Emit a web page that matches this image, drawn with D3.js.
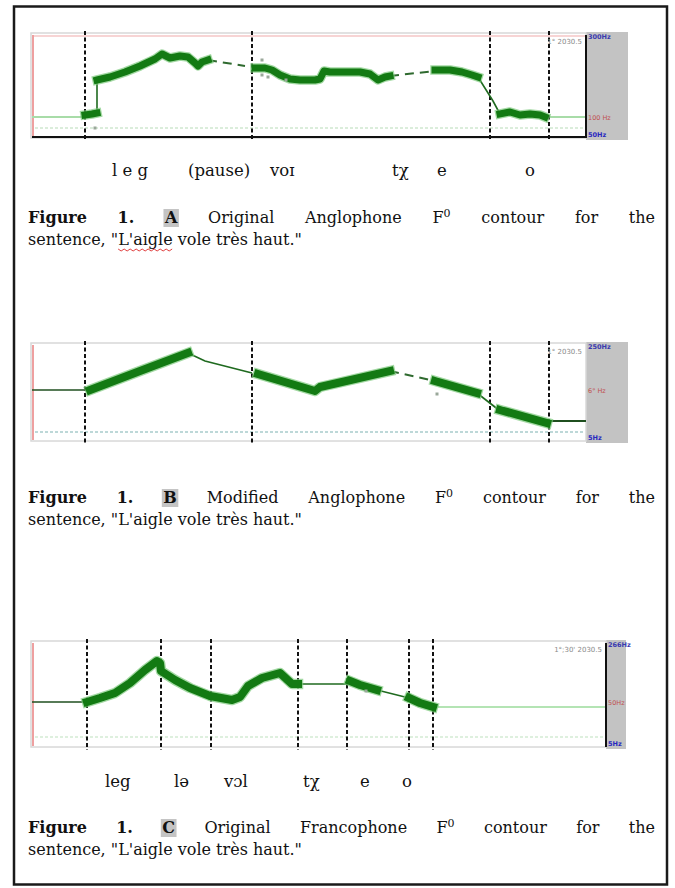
<!DOCTYPE html>
<html>
<head>
<meta charset="utf-8">
<script src="https://cdn.jsdelivr.net/npm/d3@7/dist/d3.min.js"></script>
<style>
  html, body { margin: 0; padding: 0; background: #ffffff; }
  svg { display: block; }
</style>
</head>
<body>
<svg id="chart" width="675" height="888"></svg>
<script>
// ---------------- DATA (time in ms, F0 in Hz) ----------------
// Panel A: original Anglophone contour
const aThick = [
  [[159,104],[180,106],[195,108]],
  [[195,174],[234,180],[279,190],[324,202],[369,216],[390,226],[414,218],[444,222],[468,220],[489,208],[498,202],[510,210],[528,214]],
  [[669,198],[699,198],[720,194],[744,184],[774,176],[804,174],[849,174],[864,176],[876,192],[894,190],[939,190],[984,190],[1014,186],[1038,174],[1059,180],[1074,182]],
  [[1209,194],[1254,194],[1290,190],[1320,184],[1338,180]],
  [[1404,106],[1434,110],[1464,104],[1494,106],[1524,104],[1539,100]]
];
const aThin = [
  [[195,108],[195,174]],
  [[1338,180],[1383,132],[1404,106]]
];
const aDashed = [
  [[528,214],[639,202]],
  [[1074,182],[1209,192]]
];
const aBase = [[[0,100],[159,100]], [[1539,100],[1662,100]]];
const aStray = [[189,78],[690,214],[690,184],[708,180],[762,174]];
const aFloor = 78;
const aBounds = [159, 660, 1374, 1551];
const aPhones = ["l e g", "(pause)", "voɪ", "tχ", "e", "o"];
const aRight = ["300Hz", "100 Hz", "50Hz"];

// Panel B: modified Anglophone contour
const bThick = [
  [[174,160],[324,198],[468,234]],
  [[678,192],[849,158],[864,166],[1074,198]],
  [[1209,178],[1335,154]],
  [[1404,120],[1545,94]]
];
const bThin = [
  [[468,234],[519,218],[660,194]],
  [[1335,154],[1404,118]]
];
const bDashed = [[[1074,198],[1209,178]]];
const bBase = [[[0,160],[174,160]], [[1551,98],[1662,98]]];
const bStray = [[1215,152]];
const bFloor = 76;
const bBounds = [159, 660, 1374, 1551];
const bRight = ["250Hz", "6° Hz", "5Hz"];

// Panel C: original Francophone contour
const cThick = [
  [[165,148],[204,156],[249,166],[294,186],[339,212],[375,230],[384,226],[387,210],[429,192],[474,176],[534,160],[600,152],[624,158],[648,180],[690,196],[744,206],[780,184],[798,184]],
  [[954,190],[984,182],[1035,172]],
  [[1131,156],[1164,146],[1203,138]]
];
const cThin = [
  [[798,184],[945,184]],
  [[1035,172],[1131,156]]
];
const cDashed = [];
const cBase = [[[0,148],[165,148]], [[1203,138],[1722,138]]];
const cStray = [[1002,170]];
const cFloor = 78;
const cBounds = [165, 387, 537, 798, 945, 1131, 1203];
const cPhones = ["leg", "lə", "vɔl", "tχ", "e", "o"];
const cRight = ["266Hz", "50Hz", "5Hz"];

// Captions
const capA1 = ["Figure", "1.", "A", "Original", "Anglophone", "F|0", "contour", "for", "the"];
const capB1 = ["Figure", "1.", "B", "Modified", "Anglophone", "F|0", "contour", "for", "the"];
const capC1 = ["Figure", "1.", "C", "Original", "Francophone", "F|0", "contour", "for", "the"];
const capLine2 = "sentence, \"L'aigle vole très haut.\"";

// ---------------- LAYOUT ----------------
const svg = d3.select("#chart");
const FONT = "'DejaVu Serif', 'Liberation Serif', serif";

// outer frame
svg.append("rect").attr("x", 14).attr("y", 6.5).attr("width", 653).attr("height", 878)
  .attr("fill", "none").attr("stroke", "#1a1a1a").attr("stroke-width", 2.5);

function panel(cfg) {
  const x = d3.scaleLinear().domain(cfg.tDomain).range([cfg.x0, cfg.x1]);
  const y = d3.scaleLinear().domain(cfg.fDomain).range([cfg.bottom, cfg.top]);
  const g = svg.append("g");

  g.append("rect").attr("x", cfg.x1).attr("y", cfg.top - 3).attr("width", cfg.greyW)
    .attr("height", cfg.bottom - cfg.top + 6).attr("fill", "#c3c3c3");
  g.append("rect").attr("x", cfg.x0 - 1).attr("y", cfg.top - 2).attr("width", cfg.x1 - cfg.x0 + 1)
    .attr("height", cfg.bottom - cfg.top + 3).attr("fill", "#ffffff")
    .attr("stroke", "#d8d8d8").attr("stroke-width", 1.5);
  if (cfg.pinkTop) g.append("line").attr("x1", cfg.x0).attr("x2", cfg.x1).attr("y1", cfg.top + 1).attr("y2", cfg.top + 1)
    .attr("stroke", "#f4c6c6").attr("stroke-width", 1.5);
  g.append("line").attr("x1", cfg.x0 + 1).attr("x2", cfg.x0 + 1).attr("y1", cfg.top).attr("y2", cfg.bottom)
    .attr("stroke", "#eea0a0").attr("stroke-width", 2);

  g.append("line").attr("x1", cfg.x0 + 3).attr("x2", cfg.x1 - 2).attr("y1", y(cfg.floor)).attr("y2", y(cfg.floor))
    .attr("stroke", cfg.floorColor).attr("stroke-width", 1.6).attr("stroke-dasharray", "3,2");

  const line = d3.line().x(d => x(d[0])).y(d => y(d[1]));
  cfg.base.forEach((seg, i) => {
    g.append("path").attr("d", line(seg)).attr("fill", "none")
      .attr("stroke", cfg.baseColors[i]).attr("stroke-width", cfg.baseWidths[i]);
  });

  cfg.bounds.forEach(t => {
    g.append("line").attr("x1", x(t)).attr("x2", x(t)).attr("y1", cfg.top - 4).attr("y2", cfg.bottom + 4)
      .attr("stroke", "#111").attr("stroke-width", 2).attr("stroke-dasharray", "4,2.5");
  });

  cfg.thin.forEach(seg => g.append("path").attr("d", line(seg)).attr("fill", "none")
    .attr("stroke", "#1f6a1f").attr("stroke-width", 1.6));
  cfg.dashed.forEach(seg => g.append("path").attr("d", line(seg)).attr("fill", "none")
    .attr("stroke", "#2f6a2f").attr("stroke-width", 2).attr("stroke-dasharray", "9,6"));

  cfg.thick.forEach(seg => {
    g.append("path").attr("d", line(seg)).attr("fill", "none")
      .attr("stroke", "#7cc97c").attr("stroke-width", cfg.thickW + 2.5)
      .attr("stroke-linejoin", "round").attr("stroke-linecap", "square").attr("opacity", 0.7);
    g.append("path").attr("d", line(seg)).attr("fill", "none")
      .attr("stroke", "#137a13").attr("stroke-width", cfg.thickW)
      .attr("stroke-linejoin", "round").attr("stroke-linecap", "square");
  });

  g.selectAll(null).data(cfg.stray).enter().append("rect")
    .attr("x", d => x(d[0]) - 1.5).attr("y", d => y(d[1]) - 1.5).attr("width", 3).attr("height", 3)
    .attr("fill", "#9aa89a");

  if (cfg.blackBottom) g.append("line").attr("x1", cfg.x0).attr("x2", cfg.x1).attr("y1", cfg.bottom).attr("y2", cfg.bottom)
    .attr("stroke", "#111").attr("stroke-width", 2);
  if (cfg.blackRight) g.append("line").attr("x1", cfg.x1).attr("x2", cfg.x1).attr("y1", cfg.top).attr("y2", cfg.bottom + 1)
    .attr("stroke", "#111").attr("stroke-width", 2);

  g.append("text").attr("x", cfg.x1 - 4).attr("y", cfg.top + 9).attr("text-anchor", "end")
    .attr("font-family", "'DejaVu Sans', sans-serif").attr("font-size", 7).attr("fill", "#8a8a8a")
    .text(cfg.readout);

  const rx = cfg.x1 + 2;
  g.append("text").attr("x", rx).attr("y", cfg.top + 4).attr("font-family", "'DejaVu Sans', sans-serif")
    .attr("font-size", 6.5).attr("font-weight", "bold").attr("fill", "#3a3ab0").text(cfg.right[0]);
  g.append("text").attr("x", rx).attr("y", y(cfg.midLabel) + 3).attr("font-family", "'DejaVu Sans', sans-serif")
    .attr("font-size", 6.5).attr("fill", "#c05050").text(cfg.right[1]);
  g.append("text").attr("x", rx).attr("y", cfg.bottom).attr("font-family", "'DejaVu Sans', sans-serif")
    .attr("font-size", 6.5).attr("font-weight", "bold").attr("fill", "#2828c0").text(cfg.right[2]);
  return {x, y};
}

panel({x0: 32, x1: 586, top: 35, bottom: 137, tDomain: [0, 1662], fDomain: [60, 264], greyW: 42,
  thick: aThick, thin: aThin, dashed: aDashed, base: aBase, baseColors: ["#a8dca8", "#a8dca8"], baseWidths: [2, 2],
  stray: aStray, floor: aFloor, floorColor: "#cfe8cf", bounds: aBounds, thickW: 7,
  blackBottom: true, blackRight: true, pinkTop: true, readout: "1° 2030.5", right: aRight, midLabel: 100});

panel({x0: 32, x1: 586, top: 345, bottom: 440, tDomain: [0, 1662], fDomain: [60, 250], greyW: 42,
  thick: bThick, thin: bThin, dashed: bDashed, base: bBase, baseColors: ["#1f4f1f", "#1f4f1f"], baseWidths: [1.5, 2],
  stray: bStray, floor: bFloor, floorColor: "#a8cccc", bounds: bBounds, thickW: 8,
  blackBottom: false, blackRight: false, pinkTop: false, readout: "1° 2030.5", right: bRight, midLabel: 160});

panel({x0: 32, x1: 606, top: 643, bottom: 746, tDomain: [0, 1722], fDomain: [60, 266], greyW: 20,
  thick: cThick, thin: cThin, dashed: cDashed, base: cBase, baseColors: ["#1f4f1f", "#b4e4b4"], baseWidths: [1.5, 2],
  stray: cStray, floor: cFloor, floorColor: "#d4ecd4", bounds: cBounds, thickW: 8,
  blackBottom: false, blackRight: true, pinkTop: false, readout: "1°;30' 2030.5", right: cRight, midLabel: 148});

// ---------------- PHONETIC LABELS ----------------
const phonesAx = [112, 188, 270, 392, 437, 525];
const phonesCx = [105, 174, 224, 303, 360, 402];
function phones(list, xs, y) {
  svg.append("g").selectAll("text").data(list).enter().append("text")
    .attr("x", (d, i) => xs[i]).attr("y", y)
    .attr("font-family", FONT).attr("font-size", 16.5).attr("fill", "#111").text(d => d);
}
phones(aPhones, phonesAx, 176);
phones(cPhones, phonesCx, 787);

// ---------------- CAPTIONS ----------------
const CAP_SIZE = 16;
function caption(words, y1, y2, underline) {
  const g = svg.append("g").attr("font-family", FONT).attr("font-size", CAP_SIZE).attr("fill", "#111");
  const nodes = words.map((w, i) => {
    const t = g.append("text").attr("y", y1).attr("font-weight", i < 3 ? "bold" : "normal");
    if (w.includes("|")) {
      const [a, b] = w.split("|");
      t.append("tspan").text(a);
      t.append("tspan").attr("dy", -6).attr("font-size", 11).text(b);
    } else t.text(w);
    return t;
  });
  const widths = nodes.map(n => n.node().getComputedTextLength());
  const x0 = 28, x1 = 655;
  const total = d3.sum(widths);
  const gap = (x1 - x0 - total) / (words.length - 1);
  let cx = x0;
  nodes.forEach((n, i) => {
    if (i === 2) {
      g.insert("rect", "text").attr("x", cx - 1.5).attr("y", y1 - 14).attr("width", widths[i] + 3)
        .attr("height", 18).attr("fill", "#c4c4c4");
    }
    n.attr("x", cx);
    cx += widths[i] + gap;
  });
  g.append("text").attr("x", x0).attr("y", y2).text(capLine2);
  if (underline) {
    const probe = g.append("text").attr("x", -1000).attr("y", -1000).text("sentence, \"");
    const start = x0 + probe.node().getComputedTextLength();
    const probe2 = g.append("text").attr("x", -1000).attr("y", -1000).text("L'aigle");
    const w = probe2.node().getComputedTextLength();
    probe.remove(); probe2.remove();
    const pts = d3.range(0, Math.floor(w / 3) + 1).map(k => [start + k * 3, y2 + 4 + (k % 2 ? 2 : 0)]);
    g.append("path").attr("d", d3.line()(pts)).attr("fill", "none").attr("stroke", "#e04040").attr("stroke-width", 1);
  }
}
caption(capA1, 223, 245, true);
caption(capB1, 503, 525, false);
caption(capC1, 833, 855, false);
</script>
</body>
</html>
